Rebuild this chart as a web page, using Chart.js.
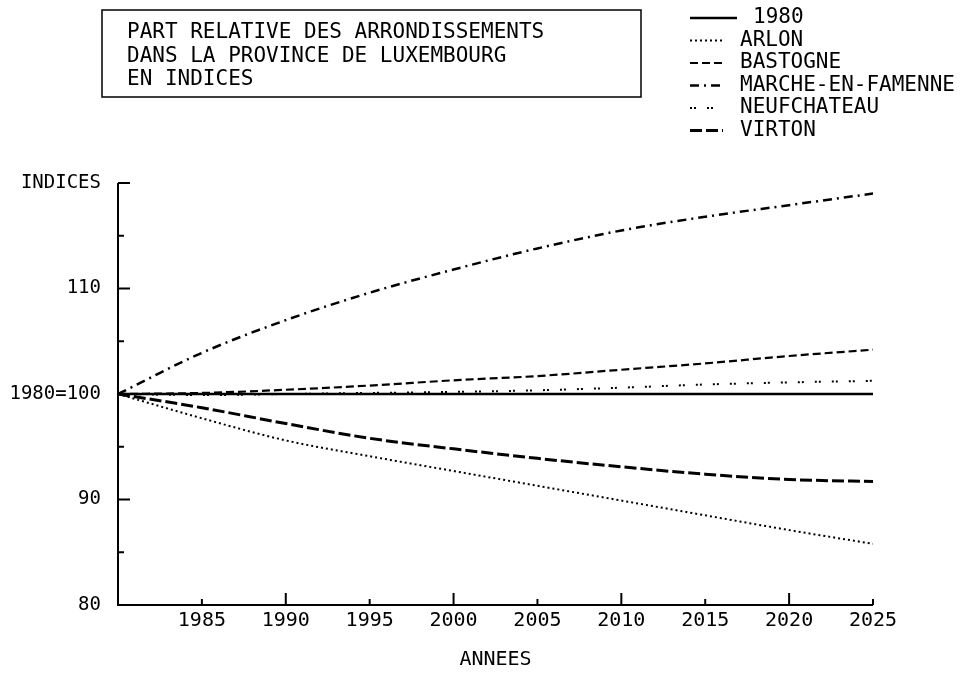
<!DOCTYPE html>
<html>
<head>
<meta charset="utf-8">
<script src="https://cdn.jsdelivr.net/npm/chart.js@4.4.0/dist/chart.umd.min.js"></script>
<style>
  html, body { margin: 0; padding: 0; background: #fff; }
  #wrap { position: relative; width: 966px; height: 674px; }
</style>
</head>
<body>
<div id="wrap"><canvas id="chart" width="966" height="674"></canvas></div>
<script>
// Donnees (indices, 1980 = 100)
const years = [1980, 1985, 1990, 1995, 2000, 2005, 2010, 2015, 2020, 2025];
const base1980 = [100, 100, 100, 100, 100, 100, 100, 100, 100, 100];
const arlon = [100, 97.7, 95.6, 94.1, 92.7, 91.3, 89.9, 88.5, 87.1, 85.8];
const bastogne = [100, 100.1, 100.4, 100.8, 101.3, 101.7, 102.3, 102.9, 103.6, 104.2];
const marche = [100, 103.9, 107.0, 109.6, 111.8, 113.8, 115.5, 116.8, 117.9, 119.0];
const neufchateau = [100, 99.9, 100.0, 100.1, 100.2, 100.35, 100.6, 100.9, 101.1, 101.25];
const virton = [100, 98.7, 97.2, 95.8, 94.8, 93.9, 93.1, 92.4, 91.9, 91.7];

const titleLines = [
  "PART RELATIVE DES ARRONDISSEMENTS",
  "DANS LA PROVINCE DE LUXEMBOURG",
  "EN INDICES"
];
const yLabels = { 80: "80", 90: "90", 100: "1980=100", 110: "110", 120: "INDICES" };
const xTitle = "ANNEES";

const FONT = "'DejaVu Sans Mono', 'Liberation Mono', monospace";

function pairs(values) {
  return years.map((y, i) => ({ x: y, y: values[i] }));
}

function serie(label, values, dash, width) {
  return {
    label: label,
    data: pairs(values),
    borderColor: "#000",
    borderWidth: width,
    borderDash: dash,
    borderCapStyle: "butt",
    pointRadius: 0,
    cubicInterpolationMode: "monotone",
    fill: false
  };
}

// cadre, graduations, titre encadre et legende facon table tracante
const plotterFrame = {
  id: "plotterFrame",
  afterDraw(chart) {
    const ctx = chart.ctx;
    const xs = chart.scales.x;
    const ys = chart.scales.y;
    const left = xs.getPixelForValue(1980);
    const right = xs.getPixelForValue(2025);
    const top = ys.getPixelForValue(120);
    const bottom = ys.getPixelForValue(80);

    ctx.save();
    ctx.strokeStyle = "#000";
    ctx.lineWidth = 2;
    ctx.setLineDash([]);
    ctx.beginPath();
    ctx.moveTo(left, top);
    ctx.lineTo(left, bottom);
    ctx.lineTo(right, bottom);
    ctx.stroke();

    // graduations vers l'interieur
    for (let v = 80; v <= 120; v += 5) {
      const py = ys.getPixelForValue(v);
      const len = v % 10 === 0 ? 12 : 6;
      ctx.beginPath();
      ctx.moveTo(left, py);
      ctx.lineTo(left + len, py);
      ctx.stroke();
    }
    for (let yr = 1985; yr <= 2025; yr += 5) {
      const px = xs.getPixelForValue(yr);
      const len = yr % 10 === 0 ? 12 : 6;
      ctx.beginPath();
      ctx.moveTo(px, bottom);
      ctx.lineTo(px, bottom - len);
      ctx.stroke();
    }

    // titre encadre
    ctx.lineWidth = 1.5;
    ctx.strokeRect(102, 10, 539, 87);
    ctx.fillStyle = "#000";
    ctx.font = "21px " + FONT;
    ctx.textBaseline = "middle";
    ctx.textAlign = "left";
    titleLines.forEach((t, i) => ctx.fillText(t, 127, 33 + i * 23.5));

    // legende
    chart.data.datasets.forEach((ds, i) => {
      const ly = 18 + i * 22.5;
      const x0 = 690;
      const x1 = i === 0 ? 737 : 723;
      ctx.lineWidth = ds.borderWidth;
      ctx.setLineDash(ds.borderDash || []);
      ctx.beginPath();
      ctx.moveTo(x0, ly);
      ctx.lineTo(x1, ly);
      ctx.stroke();
      ctx.setLineDash([]);
      ctx.fillText(ds.label, i === 0 ? 753 : 740, ly);
    });
    ctx.restore();
  }
};

const config = {
  type: "line",
  data: {
    datasets: [
      serie("1980", base1980, [], 2.5),
      serie("ARLON", arlon, [2, 3], 2),
      serie("BASTOGNE", bastogne, [8, 4], 2.2),
      serie("MARCHE-EN-FAMENNE", marche, [9, 5, 2, 5], 2.5),
      serie("NEUFCHATEAU", neufchateau, [2, 2, 2, 11], 2),
      serie("VIRTON", virton, [12, 4], 3)
    ]
  },
  options: {
    responsive: false,
    animation: false,
    devicePixelRatio: 1,
    layout: { padding: { top: 183, right: 93, bottom: 0, left: 0 } },
    plugins: {
      legend: { display: false },
      tooltip: { enabled: false }
    },
    scales: {
      x: {
        type: "linear",
        min: 1980,
        max: 2025,
        border: { display: false },
        grid: { display: false, drawTicks: false },
        ticks: {
          stepSize: 5,
          color: "#000",
          padding: 4,
          maxRotation: 0,
          autoSkip: false,
          font: { family: FONT, size: 20 },
          callback: (v) => (v === 1980 ? "" : String(v))
        },
        title: {
          display: true,
          text: xTitle,
          color: "#000",
          font: { family: FONT, size: 20 },
          padding: { top: 0, bottom: 2 }
        },
        afterFit: (s) => { s.height = 69; }
      },
      y: {
        min: 80,
        max: 120,
        border: { display: false },
        grid: { display: false, drawTicks: false },
        ticks: {
          stepSize: 5,
          color: "#000",
          padding: 17,
          autoSkip: false,
          font: { family: FONT, size: 19 },
          callback: (v) => yLabels[v] || ""
        },
        afterFit: (s) => { s.width = 118; }
      }
    }
  },
  plugins: [plotterFrame]
};

new Chart(document.getElementById("chart").getContext("2d"), config);
</script>
</body>
</html>
